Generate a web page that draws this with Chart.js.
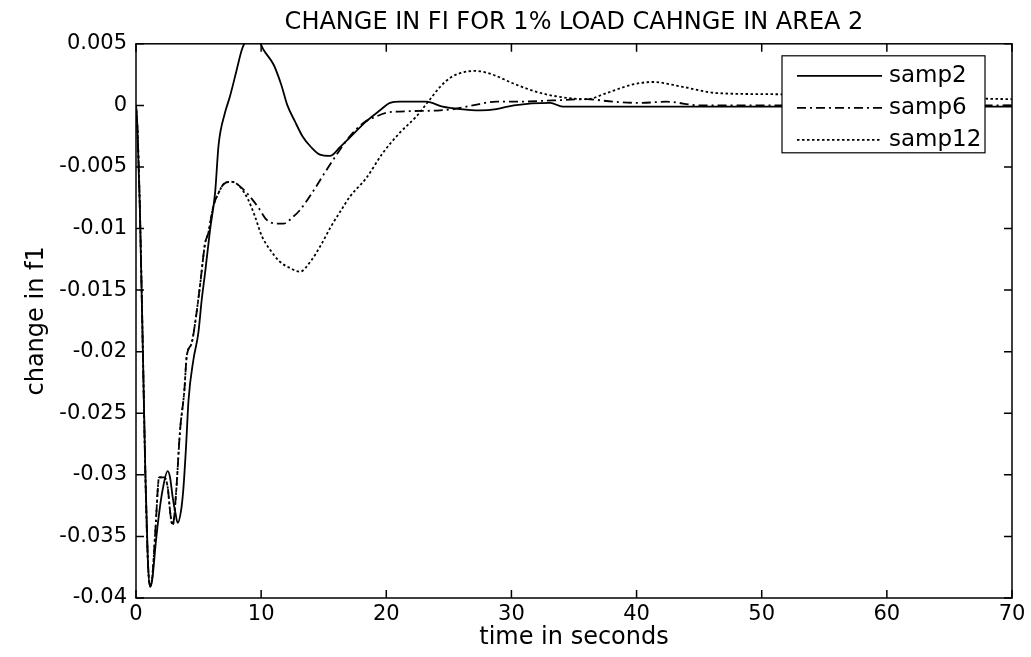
<!DOCTYPE html>
<html><head><meta charset="utf-8">
<script src="https://cdn.jsdelivr.net/npm/chart.js@4.4.1/dist/chart.umd.min.js"></script>
<style>html,body{margin:0;padding:0;background:#fff;}#wrap{width:1031px;height:657px;}</style>
</head><body><div id="wrap"><canvas id="c" width="1031" height="657"></canvas></div>
<script>
const chartTitle = 'CHANGE IN FI FOR 1% LOAD CAHNGE IN AREA 2';
const xAxisTitle = 'time in seconds';
const yAxisTitle = 'change in f1';
const seriesNames = ['samp2', 'samp6', 'samp12'];

const xTickValues = [0, 10, 20, 30, 40, 50, 60, 70];
const xTickLabels = ['0', '10', '20', '30', '40', '50', '60', '70'];
const yTickValues = [0.005, 0, -0.005, -0.01, -0.015, -0.02, -0.025, -0.03, -0.035, -0.04];
const yTickLabels = ['0.005', '0', '-0.005', '-0.01', '-0.015', '-0.02', '-0.025', '-0.03', '-0.035', '-0.04'];

const samp2T = [0, 0.1, 0.3, 0.55, 0.75, 0.95, 1.12, 1.3, 1.6, 1.85, 2.13, 2.53, 2.72, 2.93, 3.15, 3.33, 3.6, 3.78, 4.0, 4.2, 4.58, 4.98, 5.25, 5.52, 5.92, 6.32, 6.6, 7.11, 7.5, 8.05, 8.45, 8.75, 9.3, 9.9, 10.2, 11.0, 11.6, 12.1, 12.7, 13.3, 14.0, 14.7, 15.5, 16.3, 17.1, 18.4, 19.5, 20.3, 21.1, 23.2, 24.5, 25.9, 27.5, 28.8, 30.2, 33.1, 34.1, 40, 50, 60, 70];
const samp2V = [0, -0.0015, -0.008, -0.02, -0.03, -0.037, -0.0391, -0.0385, -0.0353, -0.0331, -0.0312, -0.0297, -0.0302, -0.0318, -0.0331, -0.0339, -0.0329, -0.0312, -0.0277, -0.0239, -0.0207, -0.0185, -0.0158, -0.0136, -0.0101, -0.0071, -0.0032, -0.0006, 0.0007, 0.0029, 0.0045, 0.0052, 0.0058, 0.0051, 0.0045, 0.0033, 0.0017, 0.0, -0.0013, -0.0025, -0.0034, -0.004, -0.0041, -0.0034, -0.0026, -0.0013, -0.0004, 0.0002, 0.0003, 0.0003, -0.0001, -0.0003, -0.0004, -0.0003, 0.0, 0.0002, -0.0001, -0.0001, -0.0001, -0.0001, -0.0001];

const samp6T = [0, 0.1, 0.3, 0.55, 0.75, 0.95, 1.12, 1.3, 1.55, 1.85, 2.25, 2.53, 2.75, 2.93, 3.2, 3.52, 3.86, 4.05, 4.45, 4.72, 5.12, 5.52, 5.77, 6.18, 6.6, 7.0, 7.65, 8.45, 9.1, 9.78, 10.45, 11.25, 11.78, 12.6, 13.1, 14.2, 15.25, 16.3, 17.1, 18.2, 19.2, 20.0, 21.1, 24.3, 25.4, 26.9, 28.8, 30.4, 33.3, 36.0, 38.1, 40.3, 42.4, 45, 50, 60, 70];
const samp6V = [0, -0.0015, -0.008, -0.02, -0.03, -0.037, -0.039, -0.0383, -0.0345, -0.0302, -0.0302, -0.031, -0.0332, -0.0341, -0.0315, -0.0264, -0.0232, -0.0204, -0.0193, -0.0177, -0.0146, -0.0112, -0.0104, -0.0082, -0.0071, -0.0064, -0.0062, -0.0067, -0.0074, -0.0083, -0.0093, -0.0096, -0.0096, -0.009, -0.0085, -0.0069, -0.0052, -0.0036, -0.0025, -0.0014, -0.0009, -0.0006, -0.0005, -0.0004, -0.0003, 0.0, 0.0003, 0.0003, 0.0004, 0.0005, 0.0003, 0.0002, 0.0003, 0.0, 0.0, 0.0, 0.0];

const samp12T = [0, 0.1, 0.3, 0.55, 0.75, 0.95, 1.12, 1.3, 1.55, 1.85, 2.25, 2.53, 2.75, 2.93, 3.2, 3.52, 3.86, 4.05, 4.45, 4.72, 5.12, 5.52, 5.77, 6.18, 6.6, 7.0, 7.65, 8.3, 8.98, 9.5, 10.05, 10.7, 11.5, 12.3, 13.1, 14.0, 14.8, 15.6, 16.4, 17.1, 18.4, 19.7, 21.1, 22.4, 23.5, 24.3, 25.2, 26.2, 27.1, 28.5, 30.1, 32.0, 33.8, 36.0, 37.6, 39.7, 41.3, 43.7, 46.4, 51.4, 55, 60, 65, 70];
const samp12V = [0, -0.0015, -0.008, -0.02, -0.03, -0.037, -0.039, -0.0383, -0.0345, -0.0302, -0.0302, -0.031, -0.0332, -0.0341, -0.0315, -0.0264, -0.0232, -0.0204, -0.0193, -0.0177, -0.0146, -0.0112, -0.0104, -0.0082, -0.0071, -0.0064, -0.0062, -0.0066, -0.0077, -0.009, -0.0106, -0.0117, -0.0127, -0.0132, -0.0135, -0.0126, -0.0113, -0.0098, -0.0085, -0.0074, -0.0059, -0.0039, -0.0022, -0.0009, 0.0005, 0.0015, 0.0023, 0.0027, 0.0028, 0.0025, 0.0018, 0.0011, 0.0007, 0.0005, 0.001, 0.0017, 0.0019, 0.0015, 0.001, 0.0009, 0.0008, 0.0007, 0.0006, 0.0005];

const pts = (ts, vs) => ts.map((t, i) => ({x: t, y: vs[i]}));
const FONT = '"DejaVu Sans", "Liberation Sans", Arial, sans-serif';

const framePlugin = {
  id: 'frame',
  afterDatasetsDraw(chart) {
    const {ctx, chartArea: a, scales: {x, y}} = chart;
    ctx.save();
    ctx.strokeStyle = '#000';
    ctx.lineWidth = 1.5;
    ctx.setLineDash([]);
    ctx.beginPath();
    xTickValues.forEach(v => {
      const p = x.getPixelForValue(v);
      ctx.moveTo(p, a.bottom); ctx.lineTo(p, a.bottom - 8);
      ctx.moveTo(p, a.top); ctx.lineTo(p, a.top + 8);
    });
    yTickValues.forEach(v => {
      const p = y.getPixelForValue(v);
      ctx.moveTo(a.left, p); ctx.lineTo(a.left + 8, p);
      ctx.moveTo(a.right, p); ctx.lineTo(a.right - 8, p);
    });
    ctx.stroke();
    ctx.strokeRect(a.left, a.top, a.right - a.left, a.bottom - a.top);
    ctx.restore();
  }
};

const legendPlugin = {
  id: 'boxLegend',
  afterDraw(chart) {
    const {ctx, chartArea: a} = chart;
    const left = a.right - 230, top = a.top + 12, w = 203, h = 97;
    ctx.save();
    ctx.fillStyle = '#fff';
    ctx.fillRect(left, top, w, h);
    ctx.strokeStyle = '#000';
    ctx.lineWidth = 1.2;
    ctx.strokeRect(left, top, w, h);
    ctx.font = '23px ' + FONT;
    ctx.textBaseline = 'middle';
    ctx.textAlign = 'left';
    chart.data.datasets.forEach((ds, i) => {
      const yy = top + 20 + i * 32;
      ctx.setLineDash(ds.borderDash || []);
      ctx.lineWidth = ds.borderWidth;
      ctx.beginPath();
      ctx.moveTo(left + 15, yy);
      ctx.lineTo(left + 100, yy);
      ctx.stroke();
      ctx.setLineDash([]);
      ctx.fillStyle = '#000';
      ctx.fillText(ds.label, left + 107, yy);
    });
    ctx.restore();
  }
};

new Chart(document.getElementById('c'), {
  type: 'line',
  data: {
    datasets: [
      {label: seriesNames[0], data: pts(samp2T, samp2V), borderColor: '#000', borderWidth: 1.8, borderDash: []},
      {label: seriesNames[1], data: pts(samp6T, samp6V), borderColor: '#000', borderWidth: 1.8, borderDash: [9, 4, 2, 4]},
      {label: seriesNames[2], data: pts(samp12T, samp12V), borderColor: '#000', borderWidth: 1.8, borderDash: [2.5, 2.5]}
    ]
  },
  options: {
    responsive: false,
    animation: false,
    devicePixelRatio: 1,
    elements: {point: {radius: 0}, line: {cubicInterpolationMode: 'monotone', fill: false}},
    layout: {padding: {left: 0, right: 19, top: 0, bottom: 0}},
    plugins: {
      legend: {display: false},
      tooltip: {enabled: false},
      title: {display: true, fullSize: false, text: chartTitle, color: '#000', font: {family: FONT, size: 24, weight: 'normal'}, padding: {top: 8, bottom: 7}}
    },
    scales: {
      x: {
        type: 'linear', min: 0, max: 70,
        afterBuildTicks: s => { s.ticks = xTickValues.map(v => ({value: v})); },
        afterFit: s => { s.height = 59; },
        grid: {display: false, drawTicks: false},
        border: {display: false},
        ticks: {color: '#000', font: {family: FONT, size: 21}, padding: 4, maxRotation: 0,
          callback: v => xTickLabels[xTickValues.indexOf(v)]},
        title: {display: true, text: xAxisTitle, color: '#000', font: {family: FONT, size: 24}, padding: {top: 0, bottom: 5}}
      },
      y: {
        type: 'linear', min: -0.04, max: 0.005,
        afterBuildTicks: s => { s.ticks = yTickValues.map(v => ({value: v})); },
        afterFit: s => { s.width = 136; },
        grid: {display: false, drawTicks: false},
        border: {display: false},
        ticks: {color: '#000', font: {family: FONT, size: 21}, padding: 9,
          callback: v => yTickLabels[yTickValues.findIndex(t => Math.abs(t - v) < 1e-9)]},
        title: {display: true, text: yAxisTitle, color: '#000', font: {family: FONT, size: 24}, padding: {top: 22, bottom: 0}}
      }
    }
  },
  plugins: [framePlugin, legendPlugin]
});
</script>
</body></html>
